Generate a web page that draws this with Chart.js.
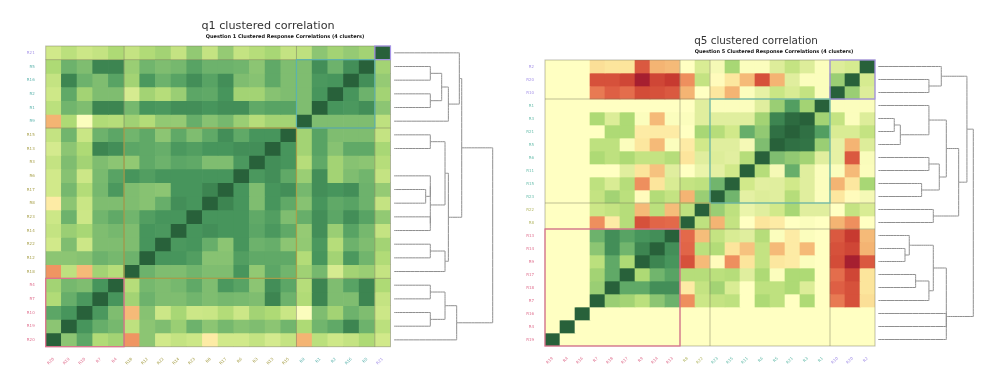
<!DOCTYPE html>
<html>
<head>
<meta charset="utf-8">
<title>Clustered correlations</title>
<script src="https://cdn.jsdelivr.net/npm/chart.js@4"></script>
<style>
    html, body { margin: 0; padding: 0; background: #fff; overflow: hidden; }
    canvas { position: absolute; top: 0; filter: blur(0.55px); }
</style>
</head>
<body>
<canvas id="heat-q1" width="536" height="388" style="left:0"></canvas>
<canvas id="tree-q1" width="570" height="388" style="left:0"></canvas>
<canvas id="heat-q5" width="504" height="388" style="left:504px"></canvas>
<canvas id="tree-q5" width="468" height="388" style="left:540px"></canvas>
<script>
// Response labels, top to bottom along the y axis
const q1Rows = ['R21', 'R5', 'R16', 'R2', 'R1', 'R9', 'R15', 'R13', 'R3', 'R6', 'R17', 'R8', 'R23', 'R14', 'R22', 'R12', 'R18', 'R4', 'R7', 'R10', 'R19', 'R20'];
const q5Rows = ['R2', 'R20', 'R10', 'R1', 'R3', 'R21', 'R5', 'R6', 'R11', 'R15', 'R23', 'R22', 'R8', 'R13', 'R14', 'R9', 'R17', 'R18', 'R7', 'R16', 'R4', 'R19'];

// Rows per cluster, top to bottom
const q1ClusterSizes = [1, 5, 11, 5];
const q5ClusterSizes = [3, 8, 2, 9];

// Correlations x100, one row per label above, columns run the opposite way
const q1Values = [
    [25, 33, 27, 30, 38, 30, 37, 42, 30, 48, 30, 47, 30, 35, 40, 30, 32, 50, 42, 47, 42, 100],
    [38, 62, 55, 85, 85, 45, 60, 55, 58, 72, 62, 62, 60, 50, 68, 55, 55, 82, 62, 82, 100, 42],
    [30, 85, 62, 55, 72, 42, 78, 62, 72, 82, 72, 82, 55, 52, 68, 55, 55, 78, 80, 100, 82, 47],
    [26, 68, 42, 55, 55, 22, 42, 35, 45, 70, 68, 80, 42, 42, 52, 55, 55, 80, 100, 80, 62, 42],
    [33, 60, 55, 85, 85, 58, 80, 78, 82, 82, 80, 82, 82, 68, 72, 72, 55, 100, 80, 78, 82, 50],
    [-30, 38, 2, 37, 35, 43, 36, 48, 47, 65, 52, 58, 45, 35, 42, 42, 100, 55, 55, 55, 55, 32],
    [30, 60, 28, 62, 70, 60, 68, 50, 68, 55, 68, 82, 68, 80, 80, 100, 42, 72, 55, 55, 55, 30],
    [23, 50, 38, 85, 82, 70, 68, 65, 78, 75, 80, 80, 82, 82, 100, 80, 42, 72, 52, 68, 68, 40],
    [30, 55, 42, 55, 50, 48, 68, 62, 70, 68, 55, 55, 78, 100, 82, 80, 35, 68, 42, 52, 50, 35],
    [25, 52, 27, 57, 72, 80, 75, 80, 80, 80, 80, 80, 100, 78, 82, 68, 45, 82, 42, 55, 60, 30],
    [25, 58, 36, 58, 78, 55, 52, 50, 80, 80, 85, 100, 80, 55, 80, 82, 58, 82, 80, 82, 62, 47],
    [-10, 50, 28, 55, 55, 55, 52, 65, 82, 80, 100, 85, 80, 55, 80, 68, 52, 80, 68, 72, 62, 30],
    [27, 62, 27, 60, 68, 60, 75, 80, 80, 100, 80, 80, 80, 68, 75, 55, 65, 82, 70, 82, 72, 48],
    [30, 45, 40, 55, 58, 55, 80, 78, 100, 80, 82, 80, 80, 70, 78, 68, 47, 82, 45, 72, 58, 30],
    [25, 55, 27, 55, 55, 55, 80, 100, 78, 80, 65, 50, 80, 62, 65, 50, 48, 78, 35, 62, 55, 42],
    [50, 50, 52, 62, 58, 62, 100, 80, 80, 75, 52, 52, 75, 68, 68, 68, 36, 80, 42, 78, 60, 37],
    [-40, 32, -28, 42, 35, 100, 62, 55, 55, 60, 55, 55, 80, 48, 70, 60, 43, 58, 22, 42, 45, 30],
    [42, 58, 55, 80, 100, 35, 58, 55, 58, 68, 55, 78, 72, 50, 82, 70, 35, 85, 55, 72, 85, 38],
    [37, 65, 78, 100, 80, 42, 62, 55, 55, 60, 55, 58, 57, 55, 85, 62, 37, 85, 55, 55, 85, 30],
    [70, 80, 100, 78, 55, -28, 52, 27, 40, 27, 28, 36, 27, 42, 38, 28, 2, 55, 42, 62, 55, 27],
    [50, 100, 80, 65, 58, 32, 50, 55, 45, 62, 50, 58, 52, 55, 50, 60, 38, 60, 68, 85, 62, 33],
    [100, 50, 70, 37, 42, -40, 50, 25, 30, 27, -10, 25, 25, 30, 23, 30, -30, 33, 26, 30, 38, 25]
];

const q5Values = [
    [0, 0, 0, -15, -13, -13, -68, -30, -28, 0, 20, 5, 40, 2, 2, 17, 30, 17, 2, 17, 22, 100],
    [0, 0, 0, -72, -72, -78, -100, -78, -85, -42, 30, -2, -12, -28, -72, -30, 15, 2, 2, 45, 100, 22],
    [0, 0, 0, -52, -65, -58, -75, -72, -68, -30, 0, -12, -30, 2, 12, 28, 20, 30, 2, 100, 45, 17],
    [0, 0, 0, 0, 0, 0, 0, 0, 0, 0, 15, 2, 2, 2, 15, 45, 75, 42, 100, 2, 2, 2],
    [0, 0, 0, 38, 18, 38, 2, -28, 2, 2, 15, 15, 15, 15, 42, 85, 95, 100, 42, 30, 2, 17],
    [0, 0, 0, 0, 38, 38, -10, -10, -10, 0, 40, 35, 25, 65, 48, 92, 100, 92, 75, 20, 20, 30],
    [0, 0, 0, 32, 32, 2, -12, -28, 2, -10, 25, 15, 15, 5, 55, 100, 92, 90, 45, 12, -30, 17],
    [0, 0, 0, 38, 32, 38, 30, 30, 35, -13, 15, 17, 14, 35, 100, 55, 48, 42, 15, 12, -68, 3],
    [0, 0, 0, 0, 0, 15, -13, -25, 15, 0, 10, 13, 25, 100, 35, 5, 65, 15, 2, 2, -28, 2],
    [0, 0, 0, 32, 20, 35, -42, -13, 20, 30, 32, 60, 100, 25, 14, 15, 25, 15, 2, -30, -12, 40],
    [0, 0, 0, 30, 42, 33, -2, 36, 30, -30, 45, 100, 60, 13, 17, 15, 35, 15, 2, -12, -2, 5],
    [0, 0, 0, 27, 30, 35, -28, 33, -27, 32, 100, 45, 32, 10, 15, 25, 40, 15, 15, 0, 30, 20],
    [0, 0, 0, -42, -10, 35, -72, -62, -60, 100, 32, -30, 30, 0, -13, -10, 0, 2, 0, -30, -42, 0],
    [0, 0, 0, 62, 82, 72, 80, 82, 100, -60, -27, 30, 20, 15, 35, 2, -10, 2, 0, -68, -85, -28],
    [0, 0, 0, 50, 82, 60, 85, 100, 82, -62, 33, 36, -13, -25, 30, -28, -10, -28, 0, -72, -78, -30],
    [0, 0, 0, 33, 68, 38, 100, 85, 80, -72, -28, -2, -42, -13, 30, -12, -10, 2, 0, -75, -100, -68],
    [0, 0, 0, 42, 68, 100, 38, 60, 72, 35, 35, 33, 35, 15, 38, 2, 38, 38, 0, -58, -78, -13],
    [0, 0, 0, 45, 100, 68, 68, 82, 82, -10, 30, 42, 20, 0, 32, 32, 38, 18, 0, -65, -72, -13],
    [0, 0, 0, 100, 45, 42, 33, 50, 62, -42, 27, 30, 32, 0, 38, 32, 0, 38, 0, -52, -72, -15],
    [0, 0, 100, 0, 0, 0, 0, 0, 0, 0, 0, 0, 0, 0, 0, 0, 0, 0, 0, 0, 0, 0],
    [0, 100, 0, 0, 0, 0, 0, 0, 0, 0, 0, 0, 0, 0, 0, 0, 0, 0, 0, 0, 0, 0],
    [100, 0, 0, 0, 0, 0, 0, 0, 0, 0, 0, 0, 0, 0, 0, 0, 0, 0, 0, 0, 0, 0]
];

// Dendrogram merges: [row A, height A, row B, height B, merge height]
const q1Links = [
    [1, 0, 2, 0, 0.368],
    [3, 0, 4, 0, 0.368],
    [1.5, 0.368, 3.5, 0.368, 0.483],
    [2.5, 0.483, 5, 0, 0.551],
    [0, 0, 3.75, 0.551, 0.662],
    [6, 0, 7, 0, 0.368],
    [10, 0, 11, 0, 0.321],
    [9, 0, 10.5, 0.321, 0.368],
    [12, 0, 13, 0, 0.368],
    [9.75, 0.368, 12.5, 0.368, 0.368],
    [6.5, 0.368, 11.13, 0.368, 0.517],
    [14, 0, 15, 0, 0.368],
    [14.5, 0.368, 16, 0, 0.517],
    [8.81, 0.517, 15.25, 0.517, 0.551],
    [1.88, 0.662, 12.03, 0.551, 0.686],
    [17, 0, 18, 0, 0.368],
    [19, 0, 20, 0, 0.368],
    [17.5, 0.368, 19.5, 0.368, 0.517],
    [18.5, 0.517, 21, 0, 0.635],
    [6.95, 0.686, 19.75, 0.635, 1]
];

const q5Links = [
    [1, 0, 2, 0, 0.533],
    [0, 0, 1.5, 0.533, 0.663],
    [4, 0, 5, 0, 0.168],
    [4.5, 0.168, 6, 0, 0.232],
    [3, 0, 5.25, 0.232, 0.533],
    [7, 0, 8, 0, 0.533],
    [9, 0, 10, 0, 0.456],
    [7.5, 0.533, 9.5, 0.456, 0.642],
    [4.12, 0.533, 8.5, 0.642, 0.716],
    [11, 0, 12, 0, 0.579],
    [6.31, 0.716, 11.5, 0.579, 0.846],
    [0.75, 0.663, 8.9, 0.846, 0.933],
    [14, 0, 15, 0, 0.281],
    [13, 0, 14.5, 0.281, 0.326],
    [16, 0, 17, 0, 0.393],
    [16.5, 0.393, 18, 0, 0.533],
    [13.75, 0.326, 17.25, 0.533, 0.579],
    [15.5, 0.579, 21, 0, 0.716],
    [19, 0, 20, 0, 0.716],
    [4.82, 0.933, 19.23, 0.716, 1]
];

// Colour scale, correlation x100 to colour
const colorStops = [
    [-100, [166, 31, 48]], [-85, [199, 58, 48]], [-72, [214, 81, 59]], [-60, [227, 105, 74]],
    [-42, [238, 143, 94]], [-30, [244, 180, 115]], [-13, [252, 229, 156]], [0, [255, 255, 194]],
    [15, [224, 238, 158]], [25, [209, 233, 138]], [38, [174, 218, 117]], [50, [140, 197, 115]],
    [60, [113, 181, 109]], [70, [92, 166, 102]], [80, [71, 149, 92]], [90, [50, 116, 70]],
    [100, [40, 97, 58]]
];

// Cluster colours, top to bottom
const q1ClusterColors = ['#a795e8', '#5cb3ad', '#a8a04a', '#e0708f'];
const q5ClusterColors = ['#a795e8', '#6fc0b0', '#b4b866', '#e0708f'];

function cellColor(value) {
    for (let i = 1; i < colorStops.length; i++) {
        const [hi, hiColor] = colorStops[i];
        if (value <= hi) {
            const [lo, loColor] = colorStops[i - 1];
            const t = (value - lo) / (hi - lo);
            const c = loColor.map((ch, k) => Math.round(ch + (hiColor[k] - ch) * t));
            return 'rgb(' + c.join(',') + ')';
        }
    }
    return 'rgb(40,97,58)';
}

// Which cluster a row belongs to
function clusterOfRow(sizes, row) {
    let end = 0;
    for (let i = 0; i < sizes.length; i++) {
        end += sizes[i];
        if (row < end) return i;
    }
    return sizes.length - 1;
}

// Cluster squares and the lines between clusters
const clusterBoxes = {
    id: 'clusterBoxes',
    afterDatasetsDraw(chart, args, opts) {
        const { ctx, chartArea, scales } = chart;
        const n = scales.x.getLabels().length;
        const xEdge = k => scales.x.getPixelForValue(k - 0.5);
        const yEdge = k => scales.y.getPixelForValue(k);

        ctx.save();
        ctx.strokeStyle = 'rgba(110,110,90,0.45)';
        ctx.lineWidth = 1;
        ctx.strokeRect(chartArea.left, chartArea.top, chartArea.width, chartArea.height);

        let start = 0;
        opts.sizes.forEach(size => {
            if (start > 0) {
                ctx.beginPath();
                ctx.moveTo(chartArea.left, yEdge(start));
                ctx.lineTo(chartArea.right, yEdge(start));
                ctx.moveTo(xEdge(n - start), chartArea.top);
                ctx.lineTo(xEdge(n - start), chartArea.bottom);
                ctx.stroke();
            }
            start += size;
        });

        start = 0;
        opts.sizes.forEach((size, i) => {
            ctx.strokeStyle = opts.colors[i];
            ctx.lineWidth = 1.2;
            const left = xEdge(n - start - size);
            const right = xEdge(n - start);
            ctx.strokeRect(left, yEdge(start), right - left, yEdge(start + size) - yEdge(start));
            start += size;
        });
        ctx.restore();
    }
};

function hiddenAxis(extra) {
    return Object.assign({
        grid: { display: false },
        border: { display: false },
        ticks: { display: false }
    }, extra);
}

function drawHeatmap(canvasId, title, rows, values, sizes, colors, box) {
    const columns = rows.slice().reverse();
    new Chart(document.getElementById(canvasId), {
        type: 'bar',
        plugins: [clusterBoxes],
        data: {
            labels: columns,
            datasets: values.map((row, i) => ({
                label: rows[i],
                data: row.map(() => 1),
                backgroundColor: row.map(cellColor),
                borderWidth: 0,
                barPercentage: 1,
                categoryPercentage: 1
            }))
        },
        options: {
            responsive: false,
            animation: false,
            plugins: {
                legend: { display: false },
                tooltip: { enabled: false },
                title: {
                    display: true,
                    text: title,
                    color: '#333',
                    font: { family: 'DejaVu Sans', size: box.titleSize, weight: 'normal', lineHeight: 1 },
                    padding: { top: box.titleTop, bottom: box.top - box.titleTop - box.titleSize }
                },
                clusterBoxes: { sizes: sizes, colors: colors }
            },
            scales: {
                x: {
                    stacked: true,
                    grid: { display: false },
                    border: { display: false },
                    ticks: {
                        autoSkip: false,
                        minRotation: 45,
                        maxRotation: 45,
                        padding: 2,
                        font: { family: 'DejaVu Sans', size: 4 },
                        color: ctx => colors[clusterOfRow(sizes, rows.length - 1 - ctx.index)]
                    },
                    afterFit: scale => { scale.height = 388 - box.bottom; }
                },
                y: {
                    display: false,
                    stacked: true,
                    reverse: true,
                    min: 0,
                    max: rows.length
                },
                rowLabels: {
                    type: 'category',
                    labels: rows,
                    position: 'left',
                    offset: true,
                    grid: { display: false },
                    border: { display: false },
                    ticks: {
                        autoSkip: false,
                        padding: 3,
                        font: { family: 'DejaVu Sans', size: 4 },
                        color: ctx => colors[clusterOfRow(sizes, ctx.index)]
                    },
                    afterFit: scale => { scale.width = box.left; }
                },
                rightGap: hiddenAxis({
                    type: 'linear',
                    position: 'right',
                    afterFit: scale => { scale.width = box.right; }
                })
            }
        }
    });
}

function drawTree(canvasId, subtitle, links, rowCount, box) {
    new Chart(document.getElementById(canvasId), {
        type: 'scatter',
        data: {
            datasets: links.map(link => ({
                data: [
                    { x: link[1], y: link[0] },
                    { x: link[4], y: link[0] },
                    { x: link[4], y: link[2] },
                    { x: link[3], y: link[2] }
                ],
                showLine: true,
                pointRadius: 0,
                borderColor: '#8f8f8f',
                borderWidth: 1,
                // a tiny tension keeps the straight-line fast path from merging the vertical run
                tension: 0.0001,
                clip: false
            }))
        },
        options: {
            responsive: false,
            animation: false,
            plugins: {
                legend: { display: false },
                tooltip: { enabled: false },
                subtitle: {
                    display: true,
                    text: subtitle,
                    color: '#111',
                    font: { family: 'DejaVu Sans', size: 5, weight: 'bold', lineHeight: 1 },
                    padding: { top: box.subTop, bottom: box.top - box.subTop - 5 }
                }
            },
            scales: {
                x: hiddenAxis({
                    type: 'linear',
                    min: 0,
                    max: 1,
                    afterFit: scale => { scale.height = 388 - box.bottom; }
                }),
                y: hiddenAxis({
                    type: 'linear',
                    reverse: true,
                    min: -0.5,
                    max: rowCount - 0.5,
                    afterFit: scale => { scale.width = box.left; }
                }),
                rightGap: hiddenAxis({
                    type: 'linear',
                    position: 'right',
                    afterFit: scale => { scale.width = box.right; }
                })
            }
        }
    });
}

document.addEventListener('DOMContentLoaded', function() {
    drawHeatmap('heat-q1', 'q1 clustered correlation', q1Rows, q1Values, q1ClusterSizes, q1ClusterColors,
        { titleSize: 11.2, titleTop: 20, top: 46, bottom: 346.7, left: 45.7, right: 145.5 });
    drawTree('tree-q1', 'Question 1 Clustered Response Correlations (4 clusters)', q1Links, q1Rows.length,
        { subTop: 34.5, top: 46, bottom: 346.7, left: 394, right: 77.3 });

    drawHeatmap('heat-q5', 'q5 clustered correlation', q5Rows, q5Values, q5ClusterSizes, q5ClusterColors,
        { titleSize: 10.4, titleTop: 36, top: 60, bottom: 346, left: 41, right: 133 });
    drawTree('tree-q5', 'Question 5 Clustered Response Correlations (4 clusters)', q5Links, q5Rows.length,
        { subTop: 49.5, top: 60, bottom: 346, left: 338.3, right: 34.7 });
});
</script>
</body>
</html>
